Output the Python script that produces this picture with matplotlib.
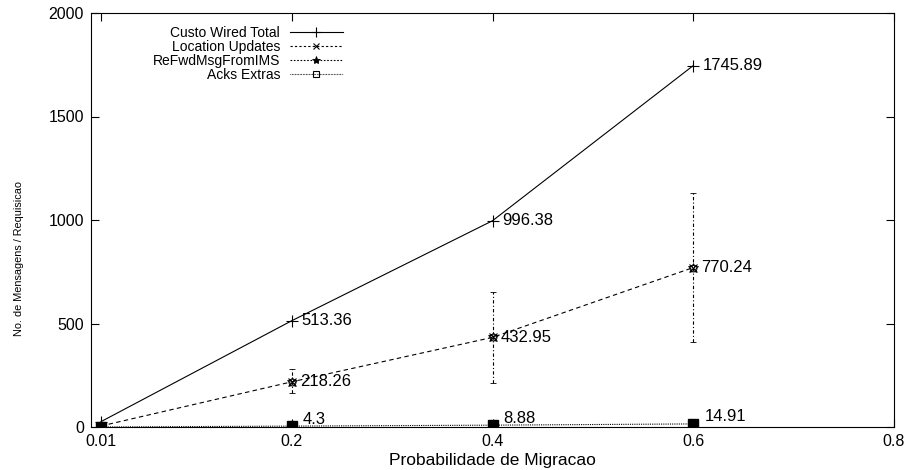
import numpy as np
import matplotlib
matplotlib.use("Agg")
import matplotlib.pyplot as plt
from matplotlib.lines import Line2D

plt.rcParams['font.family'] = ['Liberation Sans', 'DejaVu Sans']

# dados
prob = [0.01, 0.2, 0.4, 0.6]
custo_total = [26, 513.36, 996.38, 1745.89]
loc_updates = [5, 218.26, 432.95, 770.24]
refwd_low = [5, 164, 213, 411]
refwd_high = [5, 280, 652, 1130]
acks_extras = [0, 4.3, 8.88, 14.91]

xticks = [0.01, 0.2, 0.4, 0.6, 0.8]
xtick_labels = ['0.01', '0.2', '0.4', '0.6', '0.8']
yticks = [0, 500, 1000, 1500, 2000]
nomes = ['Custo Wired Total', 'Location Updates', 'ReFwdMsgFromIMS', 'Acks Extras']

fig = plt.figure(figsize=(9.05, 4.70), dpi=100)
ax = fig.add_axes([91/905, 43/470, 803/905, 414/470])

lw = 0.8
ax.plot(prob, custo_total, color='black', lw=lw, marker='+', ms=8, mew=lw)
ax.plot(prob, loc_updates, color='black', lw=lw, ls=(0, (4, 3)), marker='x', ms=6, mew=lw)
lo = np.array(loc_updates) - np.array(refwd_low)
hi = np.array(refwd_high) - np.array(loc_updates)
eb = ax.errorbar(prob, loc_updates, yerr=[lo, hi], fmt='*', color='black', ms=7, mew=0.6,
                 mfc='none', elinewidth=lw, capsize=2.5, capthick=lw)
eb[2][0].set_linestyle((0, (3, 2, 1, 2)))
ax.plot(prob, loc_updates, ls='none', marker='o', ms=5, mfc='none', mec='black', mew=0.7)
ax.plot(prob, acks_extras, color='black', lw=lw, ls=(0, (1, 1)), marker='s', ms=7)

# rotulos dos pontos
for i in range(1, len(prob)):
    ax.annotate('%g' % custo_total[i], (prob[i], custo_total[i]), xytext=(7, 0),
                textcoords='offset points', va='center', ha='left', fontsize=12)
    ax.annotate('%g' % loc_updates[i], (prob[i], loc_updates[i]), xytext=(6, 0),
                textcoords='offset points', va='center', ha='left', fontsize=12)
    ax.annotate('%g' % acks_extras[i], (prob[i], acks_extras[i]), xytext=(8, 5),
                textcoords='offset points', va='center', ha='left', fontsize=12)

ax.set_xlim(0, 0.8)
ax.set_ylim(0, 2000)
ax.set_xticks(xticks)
ax.set_xticklabels(xtick_labels)
ax.set_yticks(yticks)
ax.tick_params(direction='in', length=6, width=lw, top=True, right=True,
               labelsize=11.5, pad=5)
for s in ax.spines.values():
    s.set_linewidth(lw)

ax.set_xlabel('Probabilidade de Migracao', fontsize=12.5, labelpad=3)
ax.set_ylabel('No. de Mensagens / Requisicao', fontsize=7.8)
ax.yaxis.set_label_coords(-0.084, 0.408)

handles = [
    Line2D([], [], color='black', lw=lw, marker='+', ms=7, mew=lw),
    Line2D([], [], color='black', lw=lw, ls=(0, (2, 2)), marker='x', ms=5, mew=lw),
    Line2D([], [], color='black', lw=lw, ls=(0, (1.5, 1.5)), marker='*', ms=6, mew=0.6),
    Line2D([], [], color='black', lw=lw, ls=(0, (0.6, 0.8)), marker='s', ms=5,
           mfc='none', mew=lw),
]
leg = ax.legend(handles, nomes, loc='upper left', bbox_to_anchor=(0.07, 0.983),
                markerfirst=False, frameon=False, fontsize=10, labelspacing=0.0,
                handlelength=3.8, handletextpad=0.7, borderaxespad=0.0)

fig.savefig('out.png', dpi=100)
